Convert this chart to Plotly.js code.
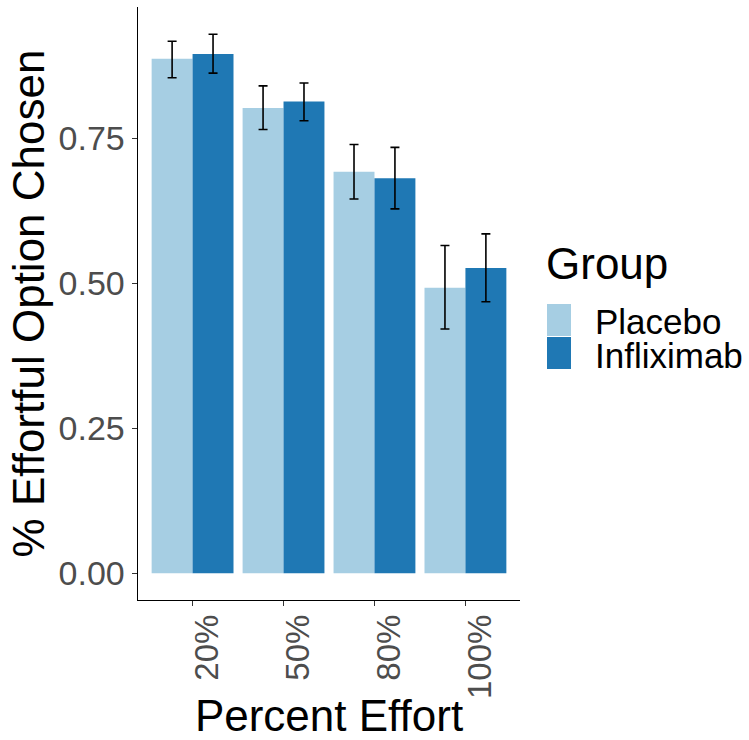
<!DOCTYPE html>
<html>
<head>
<meta charset="utf-8">
<script src="https://cdn.plot.ly/plotly-3.0.1.min.js"></script>
<style>html,body{margin:0;padding:0;background:#fff;}#chart{width:749px;height:740px;}</style>
</head>
<body>
<div id="chart"></div>
<script>
// Data
const categories = ["20%", "50%", "80%", "100%"];
const groups = ["Placebo", "Infliximab"];
const placeboMean = [0.887, 0.802, 0.692, 0.492];
const placeboUpper = [0.917, 0.840, 0.739, 0.565];
const placeboLower = [0.854, 0.765, 0.645, 0.421];
const inflixMean = [0.895, 0.813, 0.681, 0.526];
const inflixUpper = [0.929, 0.845, 0.734, 0.585];
const inflixLower = [0.862, 0.780, 0.628, 0.468];
const yTickVals = [0, 0.25, 0.5, 0.75];
const yTickText = ["0.00", "0.25", "0.50", "0.75"];
const colors = ["#A6CEE3", "#1F78B4"];

const W = 749, H = 740;
const M = {l: 138, r: 229, t: 7, b: 140};
const PW = W - M.l - M.r, PH = H - M.t - M.b;
const px2x = p => (p - M.l) / PW;
const px2y = p => (H - M.b - p) / PH;

function diff(a, b) { return a.map((v, i) => v - b[i]); }

const errStyle = {color: "#000000", thickness: 1.6, width: 4.5};
const traces = [
  {
    type: "bar", name: groups[0], x: categories, y: placeboMean,
    marker: {color: colors[0], line: {width: 0}},
    error_y: Object.assign({type: "data", symmetric: false,
      array: diff(placeboUpper, placeboMean), arrayminus: diff(placeboMean, placeboLower)}, errStyle),
    showlegend: false, hoverinfo: "skip"
  },
  {
    type: "bar", name: groups[1], x: categories, y: inflixMean,
    marker: {color: colors[1], line: {width: 0}},
    error_y: Object.assign({type: "data", symmetric: false,
      array: diff(inflixUpper, inflixMean), arrayminus: diff(inflixMean, inflixLower)}, errStyle),
    showlegend: false, hoverinfo: "skip"
  }
];

const FONT = "Liberation Sans, Arial, Helvetica, sans-serif";
const shapes = [];
const annotations = [];
// legend (drawn manually to match the key size)
const keyTop = [304, 337];
const labelMid = [321, 355];
groups.forEach((g, i) => {
  shapes.push({type: "rect", xref: "paper", yref: "paper",
    x0: px2x(547), x1: px2x(571), y0: px2y(keyTop[i]), y1: px2y(keyTop[i] + 32),
    fillcolor: colors[i], line: {width: 0}});
  annotations.push({xref: "paper", yref: "paper", x: px2x(594), y: px2y(labelMid[i]),
    xanchor: "left", yanchor: "middle", text: g, showarrow: false, height: 32,
    valign: "middle", borderpad: 0,
    font: {family: FONT, size: 35, color: "#000000"}});
});
annotations.push({xref: "paper", yref: "paper", x: px2x(544), y: px2y(264),
  xanchor: "left", yanchor: "middle", text: "Group", showarrow: false,
  font: {family: FONT, size: 44, color: "#000000"}});

const layout = {
  width: W, height: H,
  margin: M,
  paper_bgcolor: "#ffffff", plot_bgcolor: "#ffffff",
  barmode: "group", bargap: 0.1, bargroupgap: 0,
  font: {family: FONT},
  xaxis: {
    type: "category", range: [-0.6, 3.6], fixedrange: true,
    showline: true, linecolor: "#000000", linewidth: 1.4,
    ticks: "outside", ticklen: 5, tickwidth: 1.2, tickcolor: "#333333",
    tickangle: -90, ticklabelshift: 15, ticklabelstandoff: -5,
    tickfont: {family: FONT, size: 33, color: "#4D4D4D"},
    showgrid: false, zeroline: false,
    title: {text: "Percent Effort", font: {family: FONT, size: 44, color: "#000000"}, standoff: 6}
  },
  yaxis: {
    range: [-0.046, 0.976], fixedrange: true,
    tickvals: yTickVals, ticktext: yTickText,
    showline: true, linecolor: "#000000", linewidth: 1.4,
    ticks: "outside", ticklen: 5, tickwidth: 1.2, tickcolor: "#333333",
    tickfont: {family: FONT, size: 34, color: "#4D4D4D"},
    showgrid: false, zeroline: false,
    title: {text: "% Effortful Option Chosen", font: {family: FONT, size: 44, color: "#000000"}, standoff: 0}
  },
  shapes: shapes,
  annotations: annotations
};

Plotly.newPlot("chart", traces, layout, {displayModeBar: false, staticPlot: true});
</script>
</body>
</html>
